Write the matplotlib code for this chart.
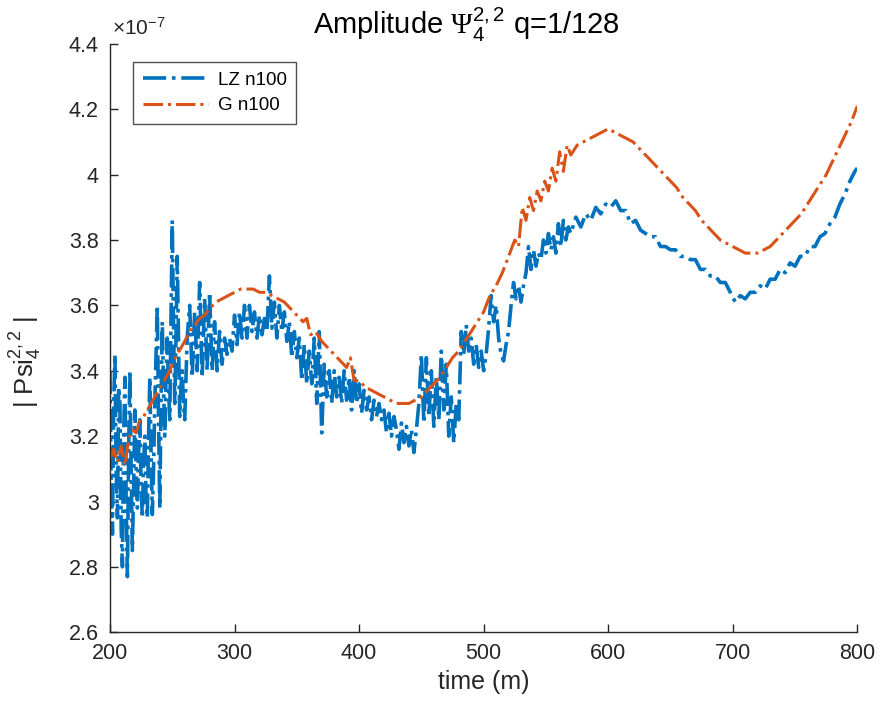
import numpy as np
import matplotlib.pyplot as plt

plt.rcParams['font.family'] = ['Liberation Sans', 'DejaVu Sans']
plt.rcParams['mathtext.fontset'] = 'custom'
plt.rcParams['mathtext.rm'] = 'Liberation Sans'
plt.rcParams['mathtext.it'] = 'Liberation Sans'
plt.rcParams['mathtext.cal'] = 'Liberation Serif'

# values in units of 1e-7
lz_t = [200, 201, 202, 203, 204, 205, 206, 207, 208, 209,
        210, 211, 212, 213, 214, 215, 216, 217, 218, 219,
        220, 221, 222, 223, 224, 225, 226, 227, 228, 229,
        230, 231, 232, 233, 234, 235, 236, 237, 238, 239,
        240, 241, 242, 243, 244, 245, 246, 247, 248, 249,
        250, 251, 252, 253, 254, 255, 256, 257, 258, 259,
        260, 262, 264, 266, 268, 270, 272, 274, 276, 278,
        280, 282, 284, 286, 288, 290, 292, 294, 296, 298,
        300, 302, 304, 306, 308, 310, 312, 314, 316, 318,
        320, 322, 324, 326, 328, 330, 332, 334, 336, 338,
        340, 342, 344, 346, 348, 350, 352, 354, 356, 358,
        360, 362, 364, 366, 368, 370, 372, 374, 376, 378,
        380, 382, 384, 386, 388, 390, 392, 394, 396, 398,
        400, 402, 404, 406, 408, 410, 412, 414, 416, 418,
        420, 422, 424, 426, 428, 430, 432, 434, 436, 438,
        440, 442, 444, 446, 448, 450, 452, 454, 456, 458,
        460, 462, 464, 466, 468, 470, 472, 474, 476, 478,
        480, 482, 484, 486, 488, 490, 492, 494, 496, 498,
        500, 502, 504, 506, 508, 510, 512, 514, 516, 518,
        520, 522, 524, 526, 528, 530, 532, 534, 536, 538,
        540, 542, 544, 546, 548, 550, 552, 554, 556, 558,
        560, 562, 564, 566, 568, 570, 574, 578, 582, 586,
        590, 594, 598, 602, 606, 610, 614, 618, 622, 626,
        630, 634, 638, 642, 646, 650, 654, 658, 662, 666,
        670, 674, 678, 682, 686, 690, 694, 698, 702, 706,
        710, 714, 718, 722, 726, 730, 734, 738, 742, 746,
        750, 754, 758, 762, 766, 770, 774, 778, 782, 786,
        790, 794, 798, 800]
lz_amp = [3.40, 3.05, 2.90, 3.30, 3.45, 3.10, 2.95, 3.35, 3.30, 2.92,
          2.80, 3.20, 3.38, 3.00, 2.77, 3.15, 3.40, 3.10, 2.85, 3.05,
          3.28, 3.10, 2.98, 3.15, 3.25, 3.05, 2.95, 3.12, 3.20, 3.00,
          2.95, 3.20, 3.38, 3.15, 2.96, 3.10, 3.30, 3.45, 3.60, 3.25,
          2.98, 3.30, 3.55, 3.35, 3.20, 3.38, 3.50, 3.35, 3.25, 3.55,
          3.86, 3.55, 3.30, 3.50, 3.75, 3.50, 3.26, 3.35, 3.40, 3.30,
          3.25, 3.50, 3.60, 3.38, 3.58, 3.40, 3.67, 3.38, 3.62, 3.40,
          3.64, 3.40, 3.55, 3.40, 3.52, 3.42, 3.50, 3.45, 3.50, 3.46,
          3.57, 3.48, 3.58, 3.50, 3.60, 3.50, 3.60, 3.52, 3.58, 3.50,
          3.57, 3.51, 3.56, 3.52, 3.69, 3.53, 3.61, 3.50, 3.60, 3.52,
          3.58, 3.49, 3.55, 3.44, 3.52, 3.44, 3.50, 3.37, 3.48, 3.36,
          3.46, 3.36, 3.50, 3.30, 3.52, 3.21, 3.42, 3.32, 3.40, 3.30,
          3.40, 3.32, 3.38, 3.30, 3.40, 3.31, 3.38, 3.28, 3.40, 3.30,
          3.36, 3.27, 3.34, 3.28, 3.32, 3.25, 3.31, 3.26, 3.30, 3.25,
          3.28, 3.21, 3.27, 3.20, 3.26, 3.22, 3.16, 3.24, 3.18, 3.23,
          3.17, 3.22, 3.15, 3.22, 3.30, 3.45, 3.24, 3.44, 3.26, 3.40,
          3.23, 3.38, 3.25, 3.46, 3.28, 3.42, 3.20, 3.32, 3.18, 3.30,
          3.25, 3.52, 3.45, 3.54, 3.46, 3.50, 3.42, 3.48, 3.41, 3.46,
          3.40, 3.45, 3.53, 3.63, 3.55, 3.60, 3.50, 3.45, 3.43, 3.48,
          3.52, 3.60, 3.67, 3.62, 3.66, 3.61, 3.66, 3.70, 3.78, 3.71,
          3.77, 3.72, 3.76, 3.74, 3.80, 3.76, 3.82, 3.77, 3.81, 3.76,
          3.85, 3.78, 3.86, 3.80, 3.84, 3.82, 3.87, 3.84, 3.88, 3.86,
          3.90, 3.88, 3.91, 3.90, 3.92, 3.89, 3.89, 3.85, 3.86, 3.83,
          3.82, 3.81, 3.81, 3.78, 3.78, 3.77, 3.77, 3.75, 3.75, 3.74,
          3.74, 3.71, 3.71, 3.69, 3.69, 3.67, 3.67, 3.64, 3.61, 3.63,
          3.62, 3.64, 3.64, 3.66, 3.65, 3.68, 3.68, 3.71, 3.70, 3.73,
          3.72, 3.75, 3.75, 3.78, 3.78, 3.81, 3.82, 3.85, 3.87, 3.91,
          3.94, 3.98, 4.01, 4.02]

g_t = [200, 203, 206, 209, 212, 215, 218, 221, 224, 227,
       230, 233, 236, 239, 242, 245, 248, 251, 254, 257,
       260, 264, 268, 272, 276, 280, 285, 290, 295, 300,
       305, 310, 315, 320, 325, 330, 335, 340, 345, 350,
       355, 358, 361, 365, 370, 375, 380, 385, 390, 393,
       396, 400, 405, 410, 415, 420, 425, 430, 435, 440,
       445, 450, 455, 460, 465, 470, 475, 480, 485, 490,
       495, 500, 505, 510, 515, 520, 525, 528, 531, 534,
       537, 540, 543, 546, 549, 552, 555, 558, 561, 564,
       567, 570, 575, 580, 585, 590, 595, 600, 605, 610,
       615, 620, 625, 630, 635, 640, 645, 650, 655, 660,
       665, 670, 675, 680, 685, 690, 695, 700, 705, 710,
       715, 720, 725, 730, 735, 740, 745, 750, 755, 760,
       765, 770, 775, 780, 785, 790, 795, 800]
g_amp = [3.13, 3.16, 3.12, 3.17, 3.11, 3.19, 3.22, 3.21, 3.25, 3.26,
         3.28, 3.30, 3.32, 3.34, 3.36, 3.38, 3.40, 3.43, 3.45, 3.47,
         3.49, 3.52, 3.54, 3.56, 3.57, 3.59, 3.61, 3.62, 3.63, 3.64,
         3.65, 3.65, 3.65, 3.64, 3.64, 3.63, 3.62, 3.61, 3.59, 3.57,
         3.55, 3.56, 3.51, 3.52, 3.49, 3.47, 3.45, 3.43, 3.41, 3.44,
         3.37, 3.37, 3.35, 3.34, 3.33, 3.32, 3.31, 3.30, 3.30, 3.30,
         3.31, 3.32, 3.34, 3.36, 3.38, 3.41, 3.44, 3.46, 3.49, 3.52,
         3.55, 3.58, 3.63, 3.66, 3.70, 3.75, 3.80, 3.78, 3.90, 3.86,
         3.93, 3.89, 3.95, 3.92, 3.98, 3.95, 4.02, 3.98, 4.07, 4.01,
         4.09, 4.06, 4.09, 4.10, 4.11, 4.12, 4.13, 4.14, 4.13, 4.12,
         4.11, 4.10, 4.08, 4.06, 4.04, 4.02, 4.00, 3.98, 3.96, 3.93,
         3.91, 3.89, 3.86, 3.84, 3.82, 3.80, 3.79, 3.78, 3.77, 3.76,
         3.76, 3.76, 3.77, 3.78, 3.80, 3.82, 3.84, 3.86, 3.88, 3.91,
         3.94, 3.97, 4.00, 4.04, 4.08, 4.12, 4.16, 4.21]

yticks = [2.6, 2.8, 3.0, 3.2, 3.4, 3.6, 3.8, 4.0, 4.2, 4.4]
ytick_labels = ['2.6', '2.8', '3', '3.2', '3.4', '3.6', '3.8', '4', '4.2', '4.4']
xticks = [200, 300, 400, 500, 600, 700, 800]

txt = '#262626'
fig = plt.figure(figsize=(8.94, 7.08), dpi=100)
ax = fig.add_axes([0.123, 0.107, 0.836, 0.831])

ax.plot(lz_t, lz_amp, '-.', color='#0072BD', lw=2.6, label='LZ n100')
ax.plot(g_t, g_amp, '-.', color='#D95319', lw=2.2, label='G n100')

ax.set_xlim(200, 800)
ax.set_ylim(2.6, 4.4)
ax.set_xticks(xticks)
ax.set_yticks(yticks)
ax.set_yticklabels(ytick_labels)
ax.tick_params(direction='in', length=6, width=1, colors=txt, labelsize=15.5, pad=8)
for s in ['top', 'right']:
    ax.spines[s].set_visible(False)
for s in ['left', 'bottom']:
    ax.spines[s].set_color(txt)
    ax.spines[s].set_linewidth(1)

ax.text(0.003, 1.008, r'$\times10^{-7}$', transform=ax.transAxes, fontsize=15,
        color=txt, ha='left', va='bottom')
ax.set_title(r'Amplitude $\mathcal{\Psi}_4^{2,2}$ q=1/128', fontsize=21,
             color='black', pad=-3, x=0.477)
ax.set_xlabel('time (m)', fontsize=18, color=txt, labelpad=4)
ax.set_ylabel(r'| Psi$_4^{2,2}$ |', fontsize=18.5, color=txt)
ax.yaxis.set_label_coords(-0.088, 0.46)

leg = ax.legend(loc='upper left', bbox_to_anchor=(0.031, 0.969), fontsize=13.5,
                frameon=True, fancybox=False, handlelength=3.5, handletextpad=0.5,
                borderpad=0.5, labelspacing=0.45, borderaxespad=0)
leg.get_frame().set_edgecolor(txt)
leg.get_frame().set_linewidth(1)

fig.savefig('out.png', dpi=100)
